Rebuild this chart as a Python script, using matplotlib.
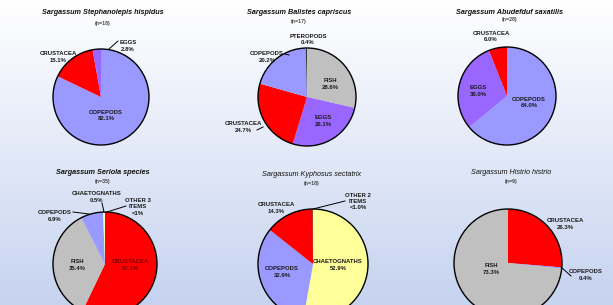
import matplotlib.pyplot as plt
import numpy as np
from matplotlib.patches import Circle

plt.rcParams['font.family'] = ['Liberation Sans', 'DejaVu Sans']

# diet composition (% of items) per fish species
titles = [('Sargassum Stephanolepis hispidus', 'bold'),
          ('Sargassum Balistes capriscus', 'bold'),
          ('Sargassum Abudefduf saxatilis', 'bold'),
          ('Sargassum Seriola species', 'bold'),
          ('Sargassum Kyphosus sectatrix', 'normal'),
          ('Sargassum Histrio histrio', 'normal')]
n_fish = [18, 17, 28, 35, 18, 9]

items_1 = ['COPEPODS', 'CRUSTACEA', 'EGGS']
pct_1 = [82.1, 15.1, 2.8]
items_2 = ['FISH', 'EGGS', 'CRUSTACEA', 'COPEPODS', 'PTEROPODS']
pct_2 = [28.6, 26.1, 24.7, 20.2, 0.4]
items_3 = ['COPEPODS', 'EGGS', 'CRUSTACEA']
pct_3 = [64.0, 30.0, 6.0]
items_4 = ['CRUSTACEA', 'FISH', 'COPEPODS', 'CHAETOGNATHS', 'OTHER 3\nITEMS']
pct_4 = [57.1, 35.4, 6.9, 0.5, 0.1]
items_5 = ['CHAETOGNATHS', 'COPEPODS', 'CRUSTACEA', 'OTHER 2\nITEMS']
pct_5 = [52.9, 32.9, 14.3, 0.1]
items_6 = ['CRUSTACEA', 'COPEPODS', 'FISH']
pct_6 = [26.3, 0.4, 73.3]
pct_text_4 = {'OTHER 3\nITEMS': '<1%'}
pct_text_5 = {'OTHER 2\nITEMS': '<1.0%'}

colors = {'COPEPODS': '#9999ff', 'CRUSTACEA': '#ff0000', 'EGGS': '#9966ff',
          'FISH': '#c0c0c0', 'PTEROPODS': '#333333', 'CHAETOGNATHS': '#ffff99',
          'OTHER 3\nITEMS': '#ffffff', 'OTHER 2\nITEMS': '#222222'}

# layout in pixel coordinates of the picture (y downwards)
centers = [(101, 97, 48), (307, 97, 49), (507, 96, 49),
           (105, 264, 52), (313, 264, 55), (508, 263, 54)]
title_pos = [(103, 12, 23), (299, 12, 21), (510, 12, 20),
             (103, 173, 182), (312, 174, 183), (511, 173, 182)]
label_pos = [
    {'COPEPODS': (106, 115.5), 'CRUSTACEA': (58, 57), 'EGGS': (128, 46)},
    {'FISH': (330, 84), 'EGGS': (323, 121), 'CRUSTACEA': (243, 127),
     'COPEPODS': (267, 57), 'PTEROPODS': (308, 39.5)},
    {'COPEPODS': (529, 102.5), 'EGGS': (478, 91), 'CRUSTACEA': (491, 36.5)},
    {'CRUSTACEA': (130, 265), 'FISH': (77, 265), 'COPEPODS': (55, 216),
     'CHAETOGNATHS': (97, 197), 'OTHER 3\nITEMS': (138, 207)},
    {'CHAETOGNATHS': (338, 265), 'COPEPODS': (282, 272), 'CRUSTACEA': (276, 208),
     'OTHER 2\nITEMS': (358, 201.5)},
    {'CRUSTACEA': (565, 224), 'COPEPODS': (586, 275), 'FISH': (491, 269)},
]
leaders = [
    [((118, 41), (109, 49))],
    [((285, 54), (289, 55)), ((257, 130), (263, 127))],
    [],
    [((102, 203), (104, 212)), ((126, 206), (107, 212)), ((73, 212), (89, 214))],
    [((345, 201), (313, 209))],
    [((561, 267), (571, 276))],
]
inside_color = {(3, 'CRUSTACEA'): '#800000'}

W, H = 613, 305


def _y(y):
    return H - y


def draw_pie(ax, k, items, pct, pct_text=None):
    pct_text = pct_text or {}
    cx, cy, r = centers[k]
    ax.pie(pct, colors=[colors[i] for i in items], startangle=90, counterclock=False,
           center=(cx, _y(cy)), radius=r, frame=True,
           wedgeprops=dict(linewidth=0, antialiased=True))
    ax.add_patch(Circle((cx, _y(cy)), r, fill=False, edgecolor='black', linewidth=1.0, zorder=3))

    name, weight = titles[k]
    tx, ty, ny = title_pos[k]
    ax.text(tx, _y(ty), name, ha='center', va='center', fontsize=5.2, style='italic',
            weight=weight, color='#111111')
    ax.text(tx, _y(ny), '(n=%d)' % n_fish[k], ha='center', va='center', fontsize=3.8,
            weight='bold', color='#444444')

    for item, p in zip(items, pct):
        lx, ly = label_pos[k][item]
        txt = '%s\n%s' % (item, pct_text.get(item, '%.1f%%' % p))
        ax.text(lx, _y(ly), txt, ha='center', va='center', fontsize=4.3, weight='bold',
                color=inside_color.get((k, item), '#1a1a1a'), linespacing=1.3, zorder=5)

    for (x0, y0), (x1, y1) in leaders[k]:
        ax.plot([x0, x1], [_y(y0), _y(y1)], color='black', linewidth=0.7, zorder=4)


fig = plt.figure(figsize=(W / 100, H / 100), dpi=100)
ax = fig.add_axes([0, 0, 1, 1])

# white to light blue background
grad = np.linspace(0, 1, 256)[:, None]
top = np.array([1.0, 1.0, 1.0])
bottom = np.array([198, 211, 240]) / 255
bg = top[None, None, :] * (1 - grad[:, :, None]) + bottom[None, None, :] * grad[:, :, None]
ax.imshow(bg, extent=[0, W, 0, H], aspect='auto', zorder=0)

draw_pie(ax, 0, items_1, pct_1)
draw_pie(ax, 1, items_2, pct_2)
draw_pie(ax, 2, items_3, pct_3)
draw_pie(ax, 3, items_4, pct_4, pct_text_4)
draw_pie(ax, 4, items_5, pct_5, pct_text_5)
draw_pie(ax, 5, items_6, pct_6)

ax.set_xlim(0, W)
ax.set_ylim(0, H)
ax.set_aspect('auto')
ax.axis('off')

fig.savefig('out.png', dpi=100)
